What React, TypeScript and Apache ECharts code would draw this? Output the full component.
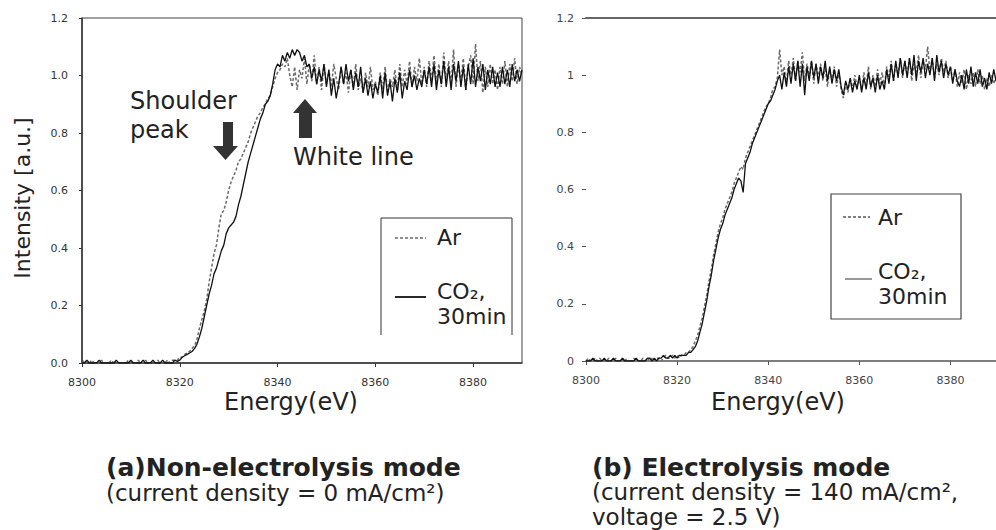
import React, { useEffect, useRef } from "react";
import * as echarts from "echarts";

// Energy grid: 8300 eV, step 0.5 eV (one row = 5 eV)
const E0 = 8300;
const STEP = 0.5;
const xTicks = [8300, 8320, 8340, 8360, 8380];

// (a) Non-electrolysis mode
const arA = [
  0.00, 0.01, 0.00, 0.00, 0.01, 0.00, 0.00, 0.00, 0.01, 0.00,
  0.00, 0.00, 0.01, 0.00, 0.00, 0.00, 0.00, 0.00, 0.00, 0.01,
  0.00, 0.00, 0.00, 0.01, 0.00, 0.00, 0.01, 0.00, 0.00, 0.00,
  0.00, 0.01, 0.00, 0.00, 0.00, 0.01, 0.00, 0.01, 0.01, 0.01,
  0.02, 0.02, 0.03, 0.035, 0.04, 0.05, 0.06, 0.08, 0.12, 0.15,
  0.18, 0.22, 0.28, 0.33, 0.38, 0.41, 0.47, 0.52, 0.53, 0.56,
  0.60, 0.63, 0.65, 0.67, 0.70, 0.71, 0.73, 0.75, 0.77, 0.80,
  0.82, 0.84, 0.86, 0.87, 0.89, 0.90, 0.92, 0.93, 0.96, 0.99,
  1.01, 1.02, 1.04, 1.03, 1.06, 1.00, 0.96, 1.03, 0.95, 1.02,
  0.99, 1.06, 0.97, 1.04, 0.98, 1.07, 0.97, 1.03, 0.95, 1.04,
  0.97, 1.02, 0.96, 1.04, 0.99, 0.95, 1.03, 0.97, 1.01, 0.94,
  1.02, 0.96, 1.04, 0.95, 0.99, 0.94, 1.01, 0.96, 1.03, 0.95,
  0.98, 0.93, 1.01, 0.95, 1.03, 0.94, 0.99, 0.96, 1.02, 0.95,
  1.04, 0.96, 1.02, 0.97, 1.05, 0.96, 1.03, 0.98, 1.06, 0.97,
  1.03, 0.96, 1.05, 0.98, 1.07, 0.97, 1.04, 0.96, 1.08, 0.98,
  1.05, 0.97, 1.09, 0.96, 1.04, 0.98, 1.06, 0.95, 1.03, 1.07,
  0.97, 1.11, 0.98, 1.05, 0.94, 1.03, 0.96, 1.04, 0.97, 1.02,
  0.95, 1.03, 0.97, 1.05, 0.96, 1.04, 0.98, 1.06, 0.97, 1.03,
  1.00,
];
const co2A = [
  0.00, 0.00, 0.01, 0.00, 0.00, 0.00, 0.00, 0.01, 0.00, 0.00,
  0.00, 0.00, 0.00, 0.00, 0.01, 0.00, 0.00, 0.00, 0.00, 0.00,
  0.01, 0.00, 0.00, 0.00, 0.00, 0.01, 0.00, 0.00, 0.00, 0.01,
  0.00, 0.00, 0.00, 0.01, 0.00, 0.00, 0.00, 0.00, 0.01, 0.005,
  0.01, 0.02, 0.025, 0.03, 0.035, 0.04, 0.05, 0.065, 0.09, 0.12,
  0.16, 0.20, 0.24, 0.27, 0.31, 0.33, 0.36, 0.39, 0.41, 0.45,
  0.47, 0.48, 0.49, 0.51, 0.55, 0.58, 0.62, 0.66, 0.70, 0.73,
  0.76, 0.79, 0.82, 0.85, 0.87, 0.90, 0.91, 0.93, 0.97, 1.02,
  1.04, 1.03, 1.07, 1.05, 1.08, 1.06, 1.09, 1.07, 1.09, 1.08,
  1.05, 1.07, 1.03, 1.04, 0.99, 1.03, 0.97, 1.02, 0.98, 1.04,
  0.96, 1.02, 0.93, 0.99, 0.92, 0.97, 1.03, 0.97, 1.04, 0.98,
  1.02, 0.95, 1.01, 0.96, 1.03, 0.94, 0.99, 0.93, 0.98, 0.92,
  0.97, 0.94, 1.00, 0.92, 1.01, 0.93, 0.98, 0.91, 0.99, 0.94,
  1.01, 0.92, 0.98, 0.95, 1.02, 0.96, 1.00, 0.95, 0.99, 0.96,
  1.02, 0.97, 1.03, 0.96, 1.04, 0.95, 1.02, 0.97, 1.05, 0.96,
  1.03, 0.95, 1.04, 0.98, 1.05, 0.96, 1.03, 0.95, 1.04, 0.97,
  1.06, 0.96, 1.03, 0.98, 1.04, 0.95, 1.02, 0.97, 1.03, 0.96,
  1.01, 0.96, 1.03, 0.97, 1.02, 0.96, 1.04, 0.98, 1.02, 0.98,
  1.02,
];

// (b) Electrolysis mode
const arB = [
  0.00, 0.01, 0.00, 0.00, 0.01, 0.00, 0.01, 0.00, 0.00, 0.00,
  0.01, 0.00, 0.00, 0.01, 0.00, 0.00, 0.00, 0.01, 0.00, 0.00,
  0.00, 0.01, 0.00, 0.00, 0.00, 0.01, 0.00, 0.01, 0.00, 0.01,
  0.00, 0.01, 0.01, 0.00, 0.01, 0.02, 0.01, 0.01, 0.02, 0.01,
  0.02, 0.01, 0.02, 0.02, 0.03, 0.03, 0.04, 0.05, 0.07, 0.09,
  0.12, 0.15, 0.19, 0.23, 0.28, 0.32, 0.37, 0.41, 0.45, 0.48,
  0.50, 0.53, 0.55, 0.57, 0.59, 0.62, 0.64, 0.66, 0.68, 0.67,
  0.71, 0.73, 0.75, 0.77, 0.79, 0.81, 0.83, 0.85, 0.87, 0.89,
  0.90, 0.92, 0.95, 0.96, 0.99, 1.09, 1.00, 1.03, 0.97, 1.05,
  1.00, 1.06, 0.98, 1.05, 1.01, 1.08, 0.98, 1.04, 1.00, 1.05,
  0.97, 1.04, 0.99, 1.04, 0.98, 1.03, 0.96, 1.02, 0.98, 1.03,
  0.96, 1.01, 0.95, 0.92, 0.97, 0.94, 0.99, 0.95, 1.00, 0.96,
  0.99, 0.95, 1.01, 0.96, 1.03, 0.95, 1.00, 0.96, 1.02, 0.97,
  1.01, 0.96, 1.03, 0.99, 1.05, 0.98, 1.04, 1.00, 1.06, 0.99,
  1.05, 1.00, 1.06, 0.98, 1.04, 1.01, 1.07, 0.99, 1.05, 1.02,
  1.10, 1.01, 1.06, 0.99, 1.04, 1.00, 1.06, 1.01, 1.05, 0.99,
  1.03, 0.98, 1.02, 0.96, 1.01, 0.97, 1.02, 0.95, 1.00, 0.97,
  1.01, 0.96, 1.02, 0.97, 1.00, 0.95, 0.99, 0.96, 1.00, 0.97,
  0.99,
];
const co2B = [
  0.00, 0.00, 0.00, 0.01, 0.00, 0.00, 0.00, 0.00, 0.01, 0.00,
  0.00, 0.00, 0.01, 0.00, 0.00, 0.00, 0.01, 0.00, 0.00, 0.00,
  0.00, 0.00, 0.01, 0.00, 0.00, 0.00, 0.00, 0.01, 0.01, 0.00,
  0.01, 0.00, 0.01, 0.01, 0.02, 0.01, 0.01, 0.02, 0.01, 0.02,
  0.01, 0.02, 0.02, 0.02, 0.02, 0.03, 0.03, 0.04, 0.05, 0.07,
  0.10, 0.13, 0.17, 0.21, 0.26, 0.30, 0.35, 0.39, 0.43, 0.46,
  0.48, 0.51, 0.53, 0.55, 0.57, 0.60, 0.62, 0.64, 0.63, 0.59,
  0.69, 0.71, 0.73, 0.76, 0.78, 0.80, 0.82, 0.84, 0.86, 0.88,
  0.90, 0.91, 0.93, 0.95, 0.98, 1.00, 0.95, 1.01, 0.96, 1.03,
  0.97, 1.04, 0.98, 1.05, 0.96, 1.04, 0.93, 1.03, 0.98, 1.05,
  0.99, 1.04, 0.97, 1.03, 0.99, 1.05, 0.98, 1.03, 0.97, 1.02,
  0.98, 1.02, 0.96, 0.93, 0.98, 0.95, 0.99, 0.94, 0.98, 0.95,
  1.00, 0.94, 0.99, 0.95, 1.01, 0.96, 0.99, 0.94, 1.00, 0.95,
  0.98, 0.95, 1.02, 0.97, 1.04, 0.98, 1.05, 0.99, 1.06, 1.00,
  1.05, 0.99, 1.06, 1.00, 1.07, 0.98, 1.05, 1.01, 1.06, 0.99,
  1.04, 1.00, 1.06, 0.98, 1.07, 1.01, 1.05, 0.99, 1.04, 1.00,
  1.03, 0.97, 1.02, 0.98, 0.96, 1.00, 0.95, 1.02, 0.97, 1.03,
  0.96, 1.01, 0.97, 1.02, 0.96, 0.99, 0.95, 1.01, 0.97, 1.02,
  0.98,
];

const legendAr = "Ar";
const legendCO2 = "CO₂,\n30min";

const pairs = (vals: number[]) => vals.map((v, i) => [E0 + i * STEP, v]);

const FONT = "DejaVu Sans";

export default function App() {
  const ref = useRef<HTMLDivElement>(null);
  useEffect(() => {
    if (!ref.current) return;
    const chart = echarts.init(ref.current, null, { renderer: "svg" });
    const arStyle = { color: "#6a6a6a", width: 1.5, type: [3, 2] as any };
    const co2Style = { color: "#111", width: 1.3 };
    const txt = (x: number, y: number, text: string, size: number, opts: any = {}) => ({
      type: "text",
      x,
      y,
      silent: true,
      style: {
        text,
        fontFamily: FONT,
        fontSize: size,
        fill: opts.fill || "#222",
        fontWeight: opts.bold ? "bold" : "normal",
        align: opts.align || "left",
        verticalAlign: "middle",
        lineHeight: opts.lineHeight,
      },
      rotation: opts.rotation || 0,
    });
    chart.setOption({
      animation: false,
      textStyle: { fontFamily: FONT },
      grid: [
        { left: 82, top: 18, width: 440, height: 345, show: true, borderColor: "#444", borderWidth: 1 },
        { left: 586, top: 18, width: 417, height: 343 },
      ],
      xAxis: [
        {
          type: "value", gridIndex: 0, min: 8300, max: 8390, interval: 20,
          axisLine: { lineStyle: { color: "#333", width: 1.5 } },
          axisTick: { show: true, length: 4, lineStyle: { color: "#333" } },
          axisLabel: { fontSize: 11, color: "#333", margin: 14, showMaxLabel: false,
            formatter: (v: number) => (xTicks.includes(v) ? String(v) : "") },
          splitLine: { show: false },
        },
        {
          type: "value", gridIndex: 1, min: 8300, max: 8390, interval: 20,
          axisLine: { lineStyle: { color: "#555", width: 1.5 } },
          axisTick: { show: true, length: 4, lineStyle: { color: "#555" } },
          axisLabel: { fontSize: 11, color: "#444", margin: 14, showMaxLabel: false,
            formatter: (v: number) => (xTicks.includes(v) ? String(v) : "") },
          splitLine: { show: false },
        },
        {
          type: "value", gridIndex: 1, position: "top", min: 8300, max: 8390,
          axisLine: { show: true, lineStyle: { color: "#666", width: 2 } },
          axisTick: { show: false }, axisLabel: { show: false }, splitLine: { show: false },
        },
      ],
      yAxis: [
        {
          type: "value", gridIndex: 0, min: 0, max: 1.2, interval: 0.2,
          axisLine: { show: true, lineStyle: { color: "#333", width: 1.5 } },
          axisTick: { show: true, length: 3, lineStyle: { color: "#333" } },
          axisLabel: { fontSize: 11, color: "#333", margin: 14, formatter: (v: number) => v.toFixed(1) },
          splitLine: { show: false },
        },
        {
          type: "value", gridIndex: 1, min: 0, max: 1.2, interval: 0.2,
          axisLine: { show: false },
          axisTick: { show: true, length: 4, lineStyle: { color: "#555" } },
          axisLabel: { fontSize: 11, color: "#444", margin: 12, formatter: (v: number) => String(+v.toFixed(1)) },
          splitLine: { show: false },
        },
      ],
      series: [
        { name: "Ar (a)", type: "line", xAxisIndex: 0, yAxisIndex: 0, data: pairs(arA), showSymbol: false, lineStyle: arStyle, z: 2 },
        { name: "CO2 (a)", type: "line", xAxisIndex: 0, yAxisIndex: 0, data: pairs(co2A), showSymbol: false, lineStyle: co2Style, z: 3 },
        { name: "Ar (b)", type: "line", xAxisIndex: 1, yAxisIndex: 1, data: pairs(arB), showSymbol: false, lineStyle: arStyle, z: 2 },
        { name: "CO2 (b)", type: "line", xAxisIndex: 1, yAxisIndex: 1, data: pairs(co2B), showSymbol: false, lineStyle: co2Style, z: 3 },
      ],
      graphic: [
        // axis titles
        txt(22, 198, "Intensity [a.u.]", 22, { align: "center", rotation: Math.PI / 2 }),
        txt(291, 402, "Energy(eV)", 24, { align: "center" }),
        txt(778, 402, "Energy(eV)", 24, { align: "center" }),
        // captions
        txt(106, 467, "(a)Non-electrolysis mode", 25, { bold: true }),
        txt(106, 493, "(current density = 0 mA/cm²)", 23),
        txt(592, 467, "(b) Electrolysis mode", 25, { bold: true }),
        txt(592, 492, "(current density = 140 mA/cm²,", 23),
        txt(592, 517, "voltage = 2.5 V)", 23),
        // annotations
        txt(130, 101, "Shoulder", 24),
        txt(130, 130, "peak", 24),
        txt(293, 157, "White line", 24),
        {
          type: "polygon", silent: true,
          shape: { points: [[223, 122], [233, 122], [233, 146], [238, 146], [225.5, 160], [213, 146], [223, 146]] },
          style: { fill: "#333" },
        },
        {
          type: "polygon", silent: true,
          shape: { points: [[305, 99], [317, 113], [312, 113], [312, 138], [299, 138], [299, 113], [293, 113]] },
          style: { fill: "#333" },
        },
        // legend (a)
        {
          type: "polyline", silent: true,
          shape: { points: [[381, 335], [381, 218], [512, 218], [512, 335]] },
          style: { stroke: "#333", lineWidth: 1, fill: null },
        },
        { type: "line", silent: true, shape: { x1: 395, y1: 238, x2: 426, y2: 238 }, style: { stroke: "#6a6a6a", lineWidth: 1.5, lineDash: [3, 2] } },
        txt(437, 237, legendAr, 22),
        { type: "line", silent: true, shape: { x1: 395, y1: 297, x2: 426, y2: 297 }, style: { stroke: "#111", lineWidth: 1.8 } },
        txt(437, 304, legendCO2, 22, { lineHeight: 25 }),
        // legend (b)
        { type: "rect", silent: true, shape: { x: 831, y: 194, width: 130, height: 125 }, style: { stroke: "#444", lineWidth: 1.2, fill: null } },
        { type: "line", silent: true, shape: { x1: 843, y1: 217, x2: 870, y2: 217 }, style: { stroke: "#555", lineWidth: 1.5, lineDash: [3, 2] } },
        txt(878, 217, legendAr, 22),
        { type: "line", silent: true, shape: { x1: 845, y1: 279, x2: 872, y2: 279 }, style: { stroke: "#555", lineWidth: 1.2 } },
        txt(878, 284, legendCO2, 22, { lineHeight: 25 }),
      ],
    });
    return () => chart.dispose();
  }, []);
  return (
    <div
      ref={ref}
      style={{ position: "fixed", left: 0, top: 0, width: 996, height: 530, background: "#fff" }}
    />
  );
}
